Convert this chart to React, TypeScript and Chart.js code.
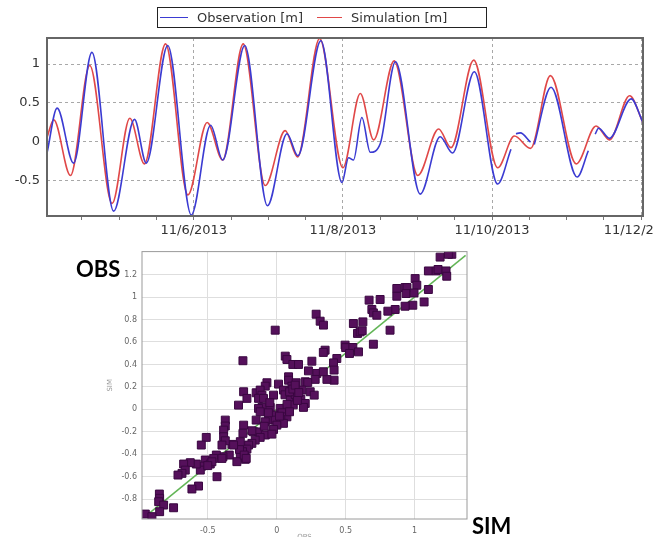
import React, { useEffect, useRef } from "react";
import { Chart, registerables } from "chart.js";

Chart.register(...registerables);

// ---------- Time series (x = hours since 11/4/2013 00:00) ----------
const obsHours = [0.74, 4.0, 9.3, 15.2, 22.2, 28.9, 32.7, 39.6, 47.2, 53.4, 57.3, 64.4, 71.7, 78.0, 81.5, 88.9, 95.7, 97.8, 99.4, 102.1, 104.8, 108.0, 112.9, 120.9, 127.3, 131.3, 138.3, 145.8, 150.1, 150.9, 151.7, 153.1, 156.4, 157.0, 157.6, 163.0, 171.4, 175.0, 176.1, 177.2, 178.3, 181.8, 188.8, 192.6];
const obsValues = [-0.15, 0.43, -0.28, 1.15, -0.9, 0.285, -0.28, 1.24, -0.95, 0.21, -0.24, 1.24, -0.83, 0.1, -0.185, 1.3, -0.53, -0.21, -0.24, 0.31, -0.14, -0.03, 1.03, -0.68, 0.06, -0.15, 0.9, -0.55, -0.1, null, 0.1, 0.11, -0.01, null, -0.04, 0.7, -0.46, -0.12, null, 0.095, 0.17, 0.04, 0.55, 0.24];

const simHours = [0.74, 2.9, 8.3, 14.5, 21.7, 27.4, 32.1, 38.9, 46.1, 52.3, 57.3, 63.9, 71.0, 77.4, 81.4, 88.5, 96.0, 101.6, 105.9, 112.5, 120.1, 126.8, 130.8, 138.1, 145.8, 151.2, 156.4, 162.8, 171.1, 177.5, 181.8, 188.3, 192.6];
const simValues = [0.05, 0.28, -0.44, 0.98, -0.8, 0.3, -0.29, 1.26, -0.69, 0.245, -0.24, 1.26, -0.57, 0.14, -0.2, 1.33, -0.34, 0.62, 0.02, 1.04, -0.44, 0.16, -0.08, 1.05, -0.34, 0.07, -0.09, 0.85, -0.29, 0.2, 0.02, 0.59, 0.24];

// tick marks every 12 h, labelled every 48 h (11/6, 11/8, 11/10, 11/12)
const xTickHours = [12, 24, 36, 48, 60, 72, 84, 96, 108, 120, 132, 144, 156, 168, 180, 192];
const xLabelHours = [48, 96, 144, 192];
const xLabels = ["11/6/2013", "11/8/2013", "11/10/2013", "11/12/2013"];

const seriesLabels = ["Observation [m]", "Simulation [m]"];
const seriesColors = ["#3b3bd2", "#e04848"];

// ---------- Scatter (OBS vs SIM) ----------
const scatterX = [1.27, 1.245, 1.185, 1.1, 1.156, 1.17, 1.228, 1.233, 1.004, 1.016, 1.1, 0.871, 0.931, 0.945, 0.871, 0.938, 0.996, 0.987, 0.931, 1.069, 0.859, 0.75, 0.67, 0.806, 0.69, 0.701, 0.726, 0.822, 0.556, 0.625, 0.586, 0.605, 0.62, 0.701, 0.496, 0.5, 0.552, 0.593, 0.528, 0.351, 0.338, 0.286, 0.315, 0.339, -0.011, -0.245, 0.436, 0.412, 0.416, 0.416, 0.062, 0.074, 0.117, 0.158, 0.255, 0.23, 0.291, 0.279, 0.364, 0.338, 0.086, 0.086, 0.013, -0.071, -0.083, 0.11, 0.141, 0.207, 0.225, 0.182, 0.243, 0.272, -0.24, -0.216, -0.149, -0.12, -0.107, -0.132, -0.096, -0.023, 0.049, 0.06, 0.098, 0.146, 0.175, 0.207, 0.194, -0.277, -0.107, -0.047, -0.132, 0.025, 0.12, 0.075, 0.134, 0.093, 0.117, 0.134, -0.12, 0.038, 0.074, 0.093, -0.023, -0.059, -0.011, 0.03, 0.049, 0.001, -0.023, -0.083, -0.149, -0.168, -0.13, -0.24, -0.245, -0.373, -0.373, -0.385, -0.083, -0.035, -0.12, -0.156, -0.18, -0.204, -0.216, -0.248, -0.264, -0.228, -0.228, -0.289, -0.27, -0.325, -0.344, -0.385, -0.373, -0.397, -0.236, -0.221, -0.264, -0.313, -0.39, -0.438, -0.457, -0.397, -0.511, -0.547, -0.518, -0.482, -0.47, -0.542, -0.554, -0.583, -0.627, -0.675, -0.663, -0.687, -0.716, -0.433, -0.567, -0.615, -0.851, -0.849, -0.856, -0.82, -0.849, -0.748, -0.953, -0.905, -0.5, -0.09, 0.02, -0.06, -0.18, 0.15, 0.16, -0.05];
const scatterY = [1.38, 1.38, 1.355, 1.232, 1.232, 1.245, 1.232, 1.185, 1.164, 1.105, 1.067, 1.076, 1.084, 1.084, 1.007, 1.031, 1.036, 0.927, 0.918, 0.956, 0.889, 0.978, 0.972, 0.874, 0.889, 0.859, 0.838, 0.705, 0.764, 0.779, 0.676, 0.69, 0.7, 0.58, 0.572, 0.55, 0.551, 0.512, 0.498, 0.527, 0.507, 0.847, 0.785, 0.75, 0.705, 0.433, 0.453, 0.414, 0.35, 0.26, 0.474, 0.444, 0.4, 0.4, 0.429, 0.343, 0.32, 0.267, 0.267, 0.335, 0.29, 0.26, 0.225, 0.237, 0.207, 0.207, 0.237, 0.246, 0.24, 0.172, 0.157, 0.127, 0.157, 0.098, 0.148, 0.172, 0.127, 0.098, 0.098, 0.127, 0.172, 0.13, 0.083, 0.107, 0.09, 0.053, 0.018, 0.038, 0.018, 0.018, 0.009, 0.009, 0.04, 0.045, 0.133, 0.157, 0.181, 0.216, -0.021, -0.03, -0.066, -0.021, -0.051, -0.095, -0.095, -0.09, -0.124, -0.14, -0.178, -0.11, -0.095, -0.199, -0.2, -0.14, -0.213, -0.095, -0.148, -0.184, -0.228, -0.22, -0.249, -0.273, -0.302, -0.317, -0.353, -0.376, -0.406, -0.427, -0.444, -0.465, -0.356, -0.311, -0.406, -0.243, -0.279, -0.317, -0.406, -0.436, -0.287, -0.317, -0.421, -0.406, -0.436, -0.436, -0.249, -0.317, -0.45, -0.486, -0.466, -0.504, -0.54, -0.486, -0.474, -0.486, -0.54, -0.569, -0.584, -0.599, -0.682, -0.708, -0.753, -0.791, -0.821, -0.851, -0.91, -0.875, -0.931, -0.954, -0.5, -0.15, -0.06, -0.03, -0.19, 0.08, 0.15, 0.06];
const diagonalEnds = [-0.93, 1.37];
const scatterXTicks = [-0.5, 0, 0.5, 1];
const scatterYTicks = [-0.8, -0.6, -0.4, -0.2, 0, 0.2, 0.4, 0.6, 0.8, 1, 1.2];

const framePlugin = (id: string, color: string, width: number) => ({
  id,
  afterDraw(chart: any) {
    const { ctx, chartArea: a } = chart;
    ctx.save();
    ctx.strokeStyle = color;
    ctx.lineWidth = width;
    ctx.strokeRect(a.left, a.top, a.right - a.left, a.bottom - a.top);
    ctx.restore();
  },
});

const fixedTicks = (values: number[]) => (s: any) => {
  s.ticks = values.map((v) => ({ value: v }));
};

export default function App() {
  const topRef = useRef<HTMLCanvasElement>(null);
  const botRef = useRef<HTMLCanvasElement>(null);

  useEffect(() => {
    const obsPts = obsHours.map((h, i) => ({ x: h, y: obsValues[i] }));
    const simPts = simHours.map((h, i) => ({ x: h, y: simValues[i] }));
    const tickFont = { family: "DejaVu Sans", size: 13 };

    const top = new Chart(topRef.current as HTMLCanvasElement, {
      type: "line",
      data: {
        datasets: [
          {
            label: seriesLabels[0],
            data: obsPts as any,
            borderColor: seriesColors[0],
            borderWidth: 1.6,
            pointRadius: 0,
            cubicInterpolationMode: "monotone",
            spanGaps: false,
          },
          {
            label: seriesLabels[1],
            data: simPts as any,
            borderColor: seriesColors[1],
            borderWidth: 1.6,
            pointRadius: 0,
            cubicInterpolationMode: "monotone",
            spanGaps: false,
          },
        ],
      },
      options: {
        animation: false,
        responsive: false,
        maintainAspectRatio: false,
        layout: { padding: { top: 38, right: 11, left: 0, bottom: 0 } },
        plugins: { legend: { display: false }, tooltip: { enabled: false } },
        scales: {
          x: {
            type: "linear",
            min: 0.74,
            max: 192.6,
            afterBuildTicks: fixedTicks(xTickHours),
            afterFit(s: any) {
              s.height = 29;
              s.paddingLeft = 0;
              s.paddingRight = 0;
            },
            ticks: {
              autoSkip: false,
              maxRotation: 0,
              minRotation: 0,
              padding: 3,
              color: "#333",
              font: tickFont,
              callback: (v: any) => {
                const k = xLabelHours.indexOf(Number(v));
                return k >= 0 ? xLabels[k] : "";
              },
            } as any,
            grid: {
              color: (ctx: any) =>
                ctx.tick && xLabelHours.indexOf(ctx.tick.value) >= 0 ? "#a8a8a8" : "rgba(0,0,0,0)",
              tickColor: "#777",
              tickLength: 4,
              drawTicks: true,
            },
            border: { display: false, dash: [3, 3] },
          },
          y: {
            type: "linear",
            min: -0.963,
            max: 1.336,
            afterBuildTicks: fixedTicks([-0.5, 0, 0.5, 1]),
            afterFit(s: any) {
              s.width = 47;
            },
            ticks: {
              padding: 7,
              color: "#333",
              font: tickFont,
              callback: (v: any) => String(Math.round(v * 10) / 10),
            } as any,
            grid: { color: "#a8a8a8", drawTicks: false },
            border: { display: false, dash: [3, 3] },
          },
        },
      },
      plugins: [framePlugin("frameTop", "#666", 2)],
    });

    const scatPts = scatterX.map((x, i) => ({ x, y: scatterY[i] }));
    const diagPts = diagonalEnds.map((v) => ({ x: v, y: v }));
    const smallFont = { family: "DejaVu Sans", size: 8 };

    const bot = new Chart(botRef.current as HTMLCanvasElement, {
      type: "scatter",
      data: {
        datasets: [
          {
            label: "OBS vs SIM",
            data: scatPts,
            pointStyle: "rect",
            pointRadius: 5.6,
            backgroundColor: "#55105b",
            borderColor: "#3a0741",
            borderWidth: 1,
          },
          {
            type: "line",
            label: "1:1",
            data: diagPts,
            borderColor: "#62b556",
            borderWidth: 1.5,
            pointRadius: 0,
            showLine: true,
          } as any,
        ],
      },
      options: {
        animation: false,
        responsive: false,
        maintainAspectRatio: false,
        layout: { padding: { top: 6, right: 13, left: 0, bottom: 0 } },
        plugins: { legend: { display: false }, tooltip: { enabled: false } },
        scales: {
          x: {
            type: "linear",
            min: -0.977,
            max: 1.38,
            afterBuildTicks: fixedTicks(scatterXTicks),
            afterFit(s: any) {
              s.height = 26;
              s.paddingLeft = 0;
              s.paddingRight = 0;
            },
            ticks: {
              autoSkip: false,
              maxRotation: 0,
              padding: 7,
              color: "#666",
              font: smallFont,
              callback: (v: any) => String(Math.round(v * 10) / 10),
            } as any,
            grid: { color: "#dedede", drawTicks: false },
            border: { display: false },
            title: { display: true, text: "OBS", color: "#999", font: { family: "DejaVu Sans", size: 7 } },
          },
          y: {
            type: "linear",
            min: -0.975,
            max: 1.404,
            afterBuildTicks: fixedTicks(scatterYTicks),
            afterFit(s: any) {
              s.width = 52;
              s.paddingTop = 0;
              s.paddingBottom = 0;
            },
            ticks: {
              autoSkip: false,
              padding: 5,
              color: "#666",
              font: smallFont,
              callback: (v: any) => String(Math.round(v * 10) / 10),
            } as any,
            grid: { color: "#dedede", drawTicks: false },
            border: { display: false },
            title: {
              display: true,
              text: "SIM",
              color: "#999",
              font: { family: "DejaVu Sans", size: 7 },
              padding: { top: 16, bottom: 0 },
            },
          },
        },
      },
      plugins: [framePlugin("frameBot", "#9a9a9a", 1)],
    });

    return () => {
      top.destroy();
      bot.destroy();
    };
  }, []);

  const legendLine = (color: string, width: number, ml: number) => (
    <span
      style={{
        display: "inline-block",
        width,
        height: 0,
        borderTop: `1.5px solid ${color}`,
        marginLeft: ml,
      }}
    />
  );

  return (
    <div
      style={{
        position: "absolute",
        left: 0,
        top: 0,
        width: 654,
        height: 537,
        overflow: "hidden",
        background: "#fff",
      }}
    >
      <canvas
        ref={topRef}
        width={654}
        height={245}
        style={{ position: "absolute", left: 0, top: 0, width: 654, height: 245 }}
      />
      <div
        style={{
          position: "absolute",
          left: 157,
          top: 7,
          width: 330,
          height: 21,
          boxSizing: "border-box",
          border: "1px solid #222",
          display: "flex",
          alignItems: "center",
          fontFamily: "'DejaVu Sans', sans-serif",
          fontSize: 13,
          color: "#333",
          whiteSpace: "nowrap",
        }}
      >
        {legendLine(seriesColors[0], 28, 2)}
        <span style={{ marginLeft: 9 }}>{seriesLabels[0]}</span>
        {legendLine(seriesColors[1], 25, 14)}
        <span style={{ marginLeft: 9 }}>{seriesLabels[1]}</span>
      </div>
      <canvas
        ref={botRef}
        width={390}
        height={300}
        style={{ position: "absolute", left: 90, top: 245, width: 390, height: 300 }}
      />
      <div
        style={{
          position: "absolute",
          left: 76,
          top: 258,
          fontFamily: "Lato, 'Open Sans', sans-serif",
          fontWeight: 700,
          fontSize: 22,
          lineHeight: "22px",
          color: "#000",
        }}
      >
        OBS
      </div>
      <div
        style={{
          position: "absolute",
          left: 472,
          top: 515,
          fontFamily: "Lato, 'Open Sans', sans-serif",
          fontWeight: 700,
          fontSize: 22,
          lineHeight: "22px",
          color: "#000",
        }}
      >
        SIM
      </div>
    </div>
  );
}
